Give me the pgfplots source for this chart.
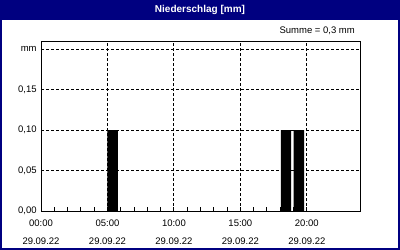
\documentclass[border=0pt]{standalone}
\usepackage{fontspec}
\setmainfont{Liberation Sans}
\usepackage{pgfplots}
\pgfplotsset{compat=1.18}
\definecolor{navyframe}{RGB}{0,0,128}
\begin{document}
\fontsize{9.5bp}{11bp}\selectfont
\begin{tikzpicture}
\fill[navyframe] (0,0) rectangle (400bp,-250bp);
\fill[white] (2bp,-20bp) rectangle (398bp,-248bp);
\node[white,font=\bfseries\fontsize{10bp}{11bp}\selectfont] at (200bp,-10bp) {Niederschlag [mm]};
\node[anchor=east,inner sep=0pt] at (355bp,-31bp) {Summe = 0,3 mm};
\begin{axis}[at={(41bp,-211bp)}, anchor=south west, scale only axis,
  width=319bp, height=170bp,
  xmin=0, xmax=24, ymin=0, ymax=0.21,
  axis line style={line width=1bp},
  xtick={0,5,10,15,20},
  xticklabels={00:00\\[7bp]29.09.22,05:00\\[7bp]29.09.22,10:00\\[7bp]29.09.22,15:00\\[7bp]29.09.22,20:00\\[7bp]29.09.22},
  xticklabel style={align=center, yshift=-5bp},
  minor x tick num=4,
  tick align=inside, xtick pos=bottom,
  major tick length=4bp, minor tick length=4bp,
  tick style={black, line width=1bp},
  ytick={0,0.05,0.1,0.15,0.2},
  yticklabels={{0,00},{0,05},{0,10},{0,15},mm},
  ytick style={draw=none},
  yticklabel style={xshift=-1bp},
  xmajorgrids, ymajorgrids,
  major grid style={black, line width=1bp, dash pattern=on 3bp off 2bp},
]
\addplot[ybar, bar width=0.78, fill=black, draw=none] coordinates {(5.39,0.1) (18.43,0.1) (19.4,0.1)};
\end{axis}
\end{tikzpicture}
\end{document}
